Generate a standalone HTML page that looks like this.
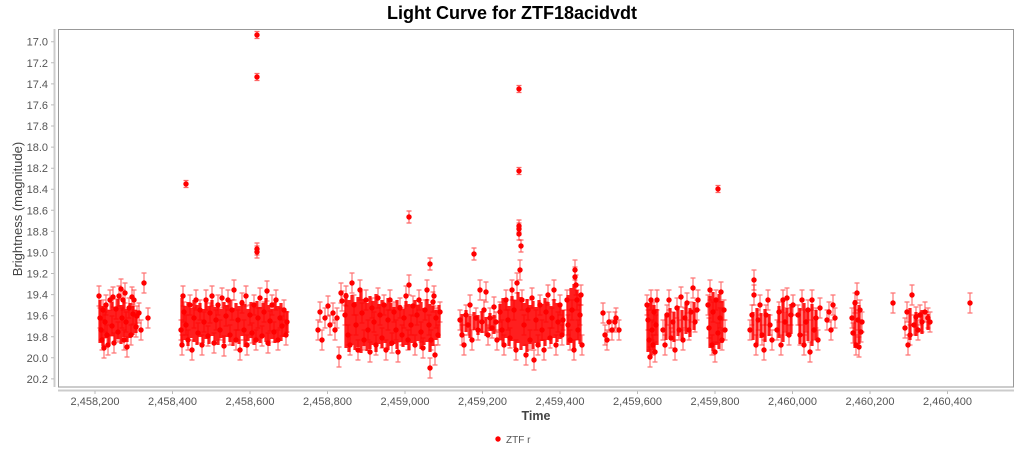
<!DOCTYPE html>
<html><head><meta charset="utf-8"><style>
html,body{margin:0;padding:0;background:#fff;}
svg{display:block;font-family:"Liberation Sans",sans-serif;}
</style></head><body>
<svg width="1024" height="449" viewBox="0 0 1024 449" xmlns="http://www.w3.org/2000/svg" xmlns:xlink="http://www.w3.org/1999/xlink">
<defs>
<g id="a"><path d="M0-10V10M-2.5-10h5M-2.5 10h5" stroke="#f00" stroke-opacity=".55" stroke-width="1.2" fill="none"/><circle r="2.7" fill="#f00"/></g>
<g id="m"><path d="M0-6V6M-2.5-6h5M-2.5 6h5" stroke="#f00" stroke-opacity=".6" stroke-width="1.2" fill="none"/><circle r="2.7" fill="#f00"/></g>
<g id="c"><path d="M0-3.5V3.5M-2.5-3.5h5M-2.5 3.5h5" stroke="#f00" stroke-opacity=".6" stroke-width="1.2" fill="none"/><circle r="2.7" fill="#f00"/></g>
</defs>
<rect width="1024" height="449" fill="#fff"/>
<text x="512" y="19" text-anchor="middle" font-size="18" font-weight="bold" fill="#000">Light Curve for ZTF18acidvdt</text>
<rect x="58.5" y="29.5" width="955" height="357.5" fill="#fff" stroke="#999" stroke-width="1"/>
<line x1="54.5" y1="29" x2="54.5" y2="387" stroke="#ccc" stroke-width="2"/>
<line x1="58" y1="390.5" x2="1014" y2="390.5" stroke="#ccc" stroke-width="2"/>
<g stroke="#bbb" stroke-width="1">
<path d="M51 41.7h3M51 62.8h3M51 83.9h3M51 104.9h3M51 126h3M51 147.1h3M51 168.2h3M51 189.2h3M51 210.3h3M51 231.4h3M51 252.5h3M51 273.5h3M51 294.6h3M51 315.7h3M51 336.8h3M51 357.8h3M51 378.9h3"/>
<path d="M95 391v3M172.5 391v3M250 391v3M327.5 391v3M405 391v3M482.5 391v3M560 391v3M637.5 391v3M715 391v3M792.5 391v3M870 391v3M947.5 391v3"/>
</g>
<g font-size="11" fill="#555" text-anchor="end">
<text x="48" y="45.7">17.0</text><text x="48" y="66.8">17.2</text><text x="48" y="87.9">17.4</text><text x="48" y="108.9">17.6</text><text x="48" y="130">17.8</text><text x="48" y="151.1">18.0</text><text x="48" y="172.2">18.2</text><text x="48" y="193.2">18.4</text><text x="48" y="214.3">18.6</text><text x="48" y="235.4">18.8</text><text x="48" y="256.5">19.0</text><text x="48" y="277.5">19.2</text><text x="48" y="298.6">19.4</text><text x="48" y="319.7">19.6</text><text x="48" y="340.8">19.8</text><text x="48" y="361.8">20.0</text><text x="48" y="382.9">20.2</text>
</g>
<g font-size="11" fill="#555" text-anchor="middle">
<text x="95" y="405">2,458,200</text><text x="172.5" y="405">2,458,400</text><text x="250" y="405">2,458,600</text><text x="327.5" y="405">2,458,800</text><text x="405" y="405">2,459,000</text><text x="482.5" y="405">2,459,200</text><text x="560" y="405">2,459,400</text><text x="637.5" y="405">2,459,600</text><text x="715" y="405">2,459,800</text><text x="792.5" y="405">2,460,000</text><text x="870" y="405">2,460,200</text><text x="947.5" y="405">2,460,400</text>
</g>
<text x="536" y="420" text-anchor="middle" font-size="12.5" font-weight="bold" fill="#444">Time</text>
<text transform="translate(22,209) rotate(-90)" text-anchor="middle" font-size="13" fill="#444">Brightness (magnitude)</text>
<circle cx="498" cy="439" r="2.7" fill="#f00"/>
<text x="506" y="443" font-size="10" fill="#555">ZTF r</text>

<path fill="none" stroke="#f00" stroke-opacity=".88" stroke-width="3.2" d="
M100 300V343M103 306V346M106 303V338M109 310V344M112 302V336M115 307V341M118 299V339M121 305V344M124 301V337M127 309V342M130 303V338M133 306V335M136 310V333
M182 298V344M185 306V340M188 302V346M191 308V338M194 300V342M197 305V345M200 303V337M203 309V343M206 301V339M209 306V344M212 300V336M215 307V341M218 303V345M221 309V338M224 302V343M227 305V337M230 300V342M233 308V346M236 303V339M239 306V344M242 300V336M245 304V347M248 309V341M251 302V338M254 306V345M257 301V340M260 307V343M263 303V337M266 298V342M269 305V346M272 309V339M275 302V343M278 306V338M281 303V341M284 308V337M287 311V333
M346 293V348M349 300V352M352 295V345M355 302V350M358 297V347M361 291V353M364 299V346M367 303V351M370 296V349M373 301V345M376 294V352M379 304V344M382 300V348M385 306V343M388 298V350M391 303V346M394 307V344M397 300V349M400 305V342M403 309V347M406 301V345M409 304V350M412 307V343M415 300V347M418 305V341M421 302V349M424 308V345M427 299V342M430 304V352M433 306V346M436 310V340M439 305V338
M462 314V336M466 310V332M470 316V338M474 312V330M478 315V335M482 311V333M486 317V336M490 313V331M494 315V334
M500 304V340M503 298V344M506 302V338M509 306V346M512 296V341M515 300V348M518 292V343M521 297V350M524 303V346M527 299V352M530 305V344M533 301V349M536 307V343M539 300V347M542 304V341M545 298V346M548 302V340M551 306V344M554 299V338M557 303V342M560 307V339M563 310V335
M568 295V345M571 288V343M574 284V348M577 290V340M580 296V344
M648 303V352M651 298V355M654 305V350M657 309V345
M666 314V340M670 308V337M674 312V342M678 306V336M682 310V339M686 304V334M690 308V337M694 302V330
M710 296V348M713 292V351M716 299V345M719 294V349M722 301V343
M753 312V340M757 308V344M761 313V338M765 309V342M769 314V336
M779 306V338M783 302V342M787 308V336M791 304V334
M800 308V344M804 303V347M808 309V341M812 304V346M816 310V340
M855 300V348M859 305V344
M910 308V340M916 312V336M922 310V334M928 314V330"/>

<g>
<use href="#a" x="99" y="296"/><use href="#a" x="100" y="318"/><use href="#a" x="101" y="330"/><use href="#a" x="102" y="340"/><use href="#a" x="103" y="310"/><use href="#a" x="104" y="348"/><use href="#a" x="105" y="322"/><use href="#a" x="106" y="305"/><use href="#a" x="107" y="335"/><use href="#a" x="108" y="345"/><use href="#a" x="110" y="300"/><use href="#a" x="112" y="326"/><use href="#a" x="113" y="297"/><use href="#a" x="114" y="343"/><use href="#a" x="116" y="309"/><use href="#a" x="118" y="332"/><use href="#a" x="119" y="296"/><use href="#a" x="121" y="289"/><use href="#a" x="122" y="318"/><use href="#a" x="123" y="300"/><use href="#a" x="124" y="340"/><use href="#a" x="125" y="293"/><use href="#a" x="126" y="322"/><use href="#a" x="127" y="347"/><use href="#a" x="129" y="308"/><use href="#a" x="131" y="335"/><use href="#a" x="132" y="297"/><use href="#a" x="133" y="314"/><use href="#a" x="134" y="300"/><use href="#a" x="136" y="327"/><use href="#a" x="137" y="316"/><use href="#a" x="139" y="313"/><use href="#a" x="141" y="330"/><use href="#a" x="144" y="283"/><use href="#a" x="148" y="318"/>

<use href="#a" x="181" y="330"/><use href="#a" x="182" y="345"/><use href="#a" x="183" y="296"/><use href="#a" x="184" y="312"/><use href="#a" x="186" y="325"/><use href="#a" x="188" y="340"/><use href="#a" x="190" y="305"/><use href="#a" x="192" y="350"/><use href="#a" x="194" y="318"/><use href="#a" x="196" y="300"/><use href="#a" x="198" y="333"/><use href="#a" x="200" y="310"/><use href="#a" x="202" y="345"/><use href="#a" x="204" y="322"/><use href="#a" x="206" y="300"/><use href="#a" x="208" y="336"/><use href="#a" x="210" y="313"/><use href="#a" x="212" y="296"/><use href="#a" x="214" y="343"/><use href="#a" x="216" y="320"/><use href="#a" x="218" y="305"/><use href="#a" x="220" y="330"/><use href="#a" x="222" y="298"/><use href="#a" x="224" y="346"/><use href="#a" x="226" y="316"/><use href="#a" x="228" y="300"/><use href="#a" x="230" y="335"/><use href="#a" x="232" y="310"/><use href="#a" x="234" y="290"/><use href="#a" x="236" y="340"/><use href="#a" x="238" y="320"/><use href="#a" x="240" y="350"/><use href="#a" x="242" y="303"/><use href="#a" x="244" y="330"/><use href="#a" x="246" y="296"/><use href="#a" x="247" y="345"/><use href="#a" x="250" y="315"/><use href="#a" x="252" y="333"/><use href="#a" x="254" y="305"/><use href="#a" x="256" y="340"/><use href="#a" x="258" y="318"/><use href="#a" x="260" y="298"/><use href="#a" x="262" y="336"/><use href="#a" x="264" y="312"/><use href="#a" x="267" y="291"/><use href="#a" x="268" y="343"/><use href="#a" x="270" y="321"/><use href="#a" x="272" y="305"/><use href="#a" x="274" y="332"/><use href="#a" x="276" y="300"/><use href="#a" x="278" y="340"/><use href="#a" x="280" y="318"/><use href="#a" x="282" y="326"/><use href="#a" x="284" y="310"/><use href="#a" x="286" y="335"/><use href="#a" x="287" y="322"/>

<use href="#a" x="318" y="330"/><use href="#a" x="320" y="312"/><use href="#a" x="322" y="340"/><use href="#a" x="325" y="318"/><use href="#a" x="328" y="306"/><use href="#a" x="330" y="325"/><use href="#a" x="333" y="313"/><use href="#a" x="335" y="330"/><use href="#a" x="337" y="318"/><use href="#a" x="339" y="357"/><use href="#a" x="341" y="293"/><use href="#a" x="342" y="301"/>

<use href="#a" x="345" y="315"/><use href="#a" x="346" y="296"/><use href="#a" x="348" y="335"/><use href="#a" x="350" y="345"/><use href="#a" x="352" y="283"/><use href="#a" x="354" y="305"/><use href="#a" x="356" y="325"/><use href="#a" x="358" y="350"/><use href="#a" x="360" y="290"/><use href="#a" x="362" y="313"/><use href="#a" x="364" y="340"/><use href="#a" x="366" y="300"/><use href="#a" x="368" y="330"/><use href="#a" x="370" y="352"/><use href="#a" x="372" y="308"/><use href="#a" x="374" y="322"/><use href="#a" x="376" y="345"/><use href="#a" x="378" y="298"/><use href="#a" x="380" y="315"/><use href="#a" x="382" y="338"/><use href="#a" x="384" y="305"/><use href="#a" x="386" y="350"/><use href="#a" x="388" y="320"/><use href="#a" x="390" y="300"/><use href="#a" x="392" y="343"/><use href="#a" x="394" y="312"/><use href="#a" x="396" y="330"/><use href="#a" x="398" y="352"/><use href="#a" x="400" y="308"/><use href="#a" x="402" y="335"/><use href="#a" x="404" y="318"/><use href="#a" x="406" y="296"/><use href="#a" x="408" y="340"/><use href="#a" x="409" y="285"/><use href="#a" x="411" y="325"/><use href="#a" x="413" y="306"/><use href="#a" x="415" y="345"/><use href="#a" x="417" y="315"/><use href="#a" x="419" y="300"/><use href="#a" x="421" y="332"/><use href="#a" x="423" y="348"/><use href="#a" x="425" y="310"/><use href="#a" x="427" y="290"/><use href="#a" x="429" y="325"/><use href="#m" x="430" y="264"/><use href="#a" x="430" y="368"/><use href="#a" x="431" y="340"/><use href="#a" x="433" y="302"/><use href="#a" x="434" y="296"/><use href="#a" x="435" y="355"/><use href="#a" x="436" y="318"/><use href="#a" x="438" y="335"/><use href="#a" x="440" y="312"/>

<use href="#a" x="460" y="320"/><use href="#a" x="462" y="335"/><use href="#a" x="464" y="345"/><use href="#a" x="466" y="315"/><use href="#a" x="468" y="325"/><use href="#a" x="470" y="305"/><use href="#a" x="472" y="340"/><use href="#m" x="474" y="254"/><use href="#a" x="476" y="318"/><use href="#a" x="478" y="330"/><use href="#a" x="480" y="290"/><use href="#a" x="482" y="322"/><use href="#a" x="484" y="310"/><use href="#a" x="486" y="292"/><use href="#a" x="488" y="335"/><use href="#a" x="490" y="318"/><use href="#a" x="492" y="328"/><use href="#a" x="494" y="307"/><use href="#a" x="496" y="322"/><use href="#a" x="497" y="340"/>

<use href="#a" x="500" y="312"/><use href="#a" x="502" y="330"/><use href="#a" x="504" y="345"/><use href="#a" x="506" y="300"/><use href="#a" x="508" y="320"/><use href="#a" x="510" y="338"/><use href="#a" x="512" y="290"/><use href="#a" x="514" y="310"/><use href="#a" x="516" y="350"/><use href="#a" x="517" y="283"/><use href="#m" x="519" y="226"/><use href="#m" x="519" y="229"/><use href="#m" x="519" y="234"/><use href="#m" x="521" y="246"/><use href="#a" x="520" y="270"/><use href="#a" x="522" y="300"/><use href="#a" x="524" y="325"/><use href="#a" x="526" y="355"/><use href="#a" x="528" y="310"/><use href="#a" x="530" y="340"/><use href="#a" x="532" y="298"/><use href="#a" x="534" y="360"/><use href="#a" x="536" y="320"/><use href="#a" x="538" y="345"/><use href="#a" x="540" y="305"/><use href="#a" x="542" y="330"/><use href="#a" x="544" y="350"/><use href="#a" x="546" y="312"/><use href="#a" x="548" y="295"/><use href="#a" x="550" y="338"/><use href="#a" x="552" y="318"/><use href="#a" x="554" y="290"/><use href="#a" x="556" y="345"/><use href="#a" x="558" y="322"/><use href="#a" x="560" y="305"/><use href="#a" x="562" y="335"/><use href="#a" x="563" y="320"/>

<use href="#a" x="567" y="300"/><use href="#a" x="568" y="325"/><use href="#a" x="570" y="340"/><use href="#a" x="572" y="310"/><use href="#a" x="574" y="350"/><use href="#a" x="575" y="270"/><use href="#a" x="575" y="277"/><use href="#a" x="576" y="285"/><use href="#a" x="577" y="300"/><use href="#a" x="578" y="330"/><use href="#a" x="580" y="315"/><use href="#a" x="581" y="295"/><use href="#a" x="582" y="345"/>

<use href="#a" x="603" y="313"/><use href="#a" x="605" y="335"/><use href="#a" x="607" y="340"/><use href="#a" x="609" y="322"/><use href="#a" x="612" y="330"/><use href="#a" x="615" y="322"/><use href="#a" x="616" y="318"/><use href="#a" x="619" y="330"/>

<use href="#a" x="647" y="305"/><use href="#a" x="648" y="320"/><use href="#a" x="649" y="340"/><use href="#a" x="650" y="357"/><use href="#a" x="651" y="300"/><use href="#a" x="652" y="330"/><use href="#a" x="653" y="345"/><use href="#a" x="654" y="312"/><use href="#a" x="655" y="352"/><use href="#a" x="656" y="325"/><use href="#a" x="657" y="300"/>

<use href="#a" x="663" y="330"/><use href="#a" x="665" y="345"/><use href="#a" x="667" y="315"/><use href="#a" x="669" y="300"/><use href="#a" x="671" y="338"/><use href="#a" x="673" y="322"/><use href="#a" x="675" y="350"/><use href="#a" x="677" y="308"/><use href="#a" x="679" y="330"/><use href="#a" x="681" y="297"/><use href="#a" x="683" y="340"/><use href="#a" x="685" y="318"/><use href="#a" x="687" y="303"/><use href="#a" x="689" y="330"/><use href="#a" x="691" y="312"/><use href="#a" x="693" y="288"/><use href="#a" x="695" y="322"/><use href="#a" x="697" y="310"/><use href="#a" x="698" y="300"/>

<use href="#a" x="708" y="305"/><use href="#a" x="709" y="328"/><use href="#a" x="710" y="290"/><use href="#a" x="712" y="345"/><use href="#a" x="713" y="312"/><use href="#a" x="715" y="352"/><use href="#a" x="716" y="300"/><use href="#a" x="718" y="333"/><use href="#a" x="720" y="318"/><use href="#a" x="721" y="292"/><use href="#a" x="722" y="340"/><use href="#a" x="724" y="310"/><use href="#a" x="725" y="330"/>

<use href="#a" x="750" y="330"/><use href="#a" x="752" y="315"/><use href="#a" x="754" y="280"/><use href="#a" x="754" y="295"/><use href="#a" x="756" y="345"/><use href="#a" x="758" y="320"/><use href="#a" x="760" y="305"/><use href="#a" x="762" y="335"/><use href="#a" x="764" y="350"/><use href="#a" x="766" y="315"/><use href="#a" x="768" y="300"/><use href="#a" x="770" y="325"/><use href="#a" x="772" y="340"/>

<use href="#a" x="777" y="330"/><use href="#a" x="779" y="312"/><use href="#a" x="781" y="345"/><use href="#a" x="783" y="300"/><use href="#a" x="785" y="322"/><use href="#a" x="787" y="298"/><use href="#a" x="789" y="335"/><use href="#a" x="791" y="315"/><use href="#a" x="793" y="305"/>

<use href="#a" x="798" y="315"/><use href="#a" x="800" y="335"/><use href="#a" x="802" y="300"/><use href="#a" x="804" y="345"/><use href="#a" x="806" y="322"/><use href="#a" x="808" y="310"/><use href="#a" x="810" y="352"/><use href="#a" x="812" y="300"/><use href="#a" x="814" y="330"/><use href="#a" x="816" y="318"/><use href="#a" x="818" y="340"/><use href="#a" x="820" y="308"/>

<use href="#a" x="827" y="320"/><use href="#a" x="829" y="312"/><use href="#a" x="831" y="330"/><use href="#a" x="833" y="305"/><use href="#a" x="835" y="318"/>

<use href="#a" x="852" y="318"/><use href="#a" x="853" y="333"/><use href="#a" x="855" y="303"/><use href="#a" x="856" y="345"/><use href="#a" x="857" y="293"/><use href="#a" x="858" y="320"/><use href="#a" x="859" y="347"/><use href="#a" x="860" y="310"/><use href="#a" x="861" y="332"/><use href="#a" x="862" y="322"/>

<use href="#a" x="893" y="303"/>

<use href="#a" x="905" y="328"/><use href="#a" x="907" y="312"/><use href="#a" x="908" y="345"/><use href="#a" x="910" y="335"/><use href="#a" x="912" y="295"/><use href="#a" x="914" y="325"/><use href="#a" x="916" y="317"/><use href="#a" x="918" y="330"/><use href="#a" x="920" y="315"/><use href="#a" x="922" y="322"/><use href="#a" x="925" y="312"/><use href="#a" x="928" y="318"/><use href="#a" x="930" y="322"/>

<use href="#a" x="970" y="303"/>

<use href="#c" x="257" y="35"/><use href="#c" x="257" y="77"/><use href="#m" x="257" y="249"/><use href="#m" x="257" y="252"/><use href="#c" x="186" y="184"/><use href="#m" x="409" y="217"/><use href="#c" x="519" y="89"/><use href="#c" x="519" y="171"/><use href="#c" x="718" y="189"/>
</g>
</svg>
</body></html>
